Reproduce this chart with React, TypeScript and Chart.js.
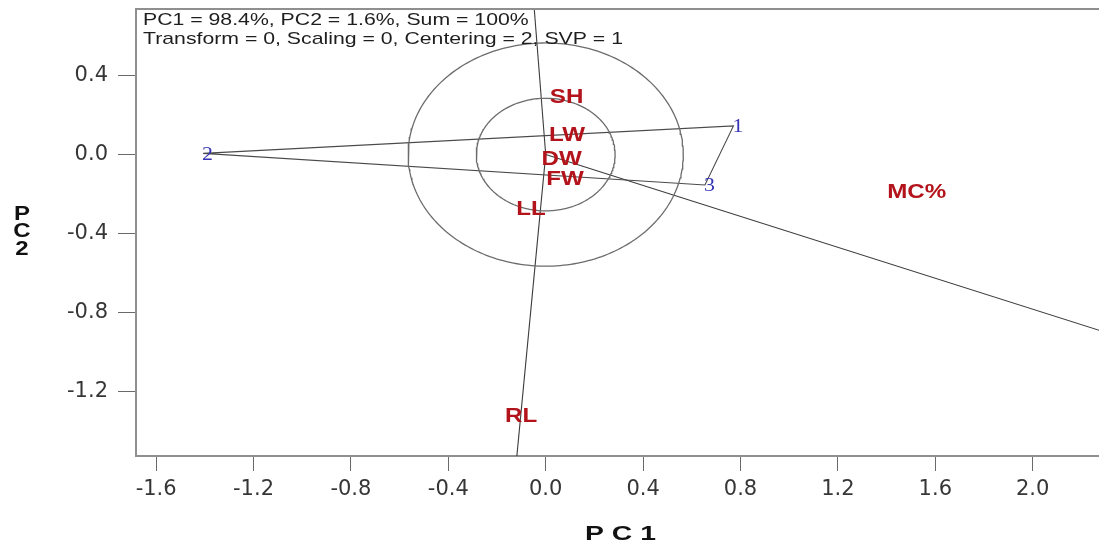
import React, { useEffect, useRef } from "react";
import { Chart, registerables } from "chart.js";

Chart.register(...registerables);

// ---------- data ----------
const HEADER_LINES = [
  "PC1 = 98.4%, PC2 = 1.6%, Sum = 100%",
  "Transform = 0, Scaling = 0, Centering = 2, SVP = 1",
];

const GENOTYPES = ["1", "2", "3"];
const GENO_PC1 = [0.771, -1.407, 0.654];
const GENO_PC2 = [0.145, 0.006, -0.154];
const HULL_ORDER = [1, 0, 2]; // polygon: 2 -> 1 -> 3 -> back to 2

const TRAITS = ["SH", "LW", "DW", "FW", "LL", "RL", "MC%"];
const TRAIT_PC1 = [0.086, 0.0875, 0.0657, 0.0793, -0.0604, -0.101, 1.5236];
const TRAIT_PC2 = [0.289, 0.099, -0.022, -0.124, -0.275, -1.327, -0.188];

const CIRCLE_RADII = [0.285, 0.565];

const X_TICKS = [-1.6, -1.2, -0.8, -0.4, 0.0, 0.4, 0.8, 1.2, 1.6, 2.0];
const Y_TICKS = [0.4, 0.0, -0.4, -0.8, -1.2];
const X_RANGE = [-1.6826, 2.2723];
const Y_RANGE = [-1.526, 0.737];

const X_TITLE = "P C 1";
const Y_TITLE = ["P", "C", "2"];

// ---------- helpers ----------
function circlePoints(r: number) {
  const pts: { x: number; y: number }[] = [];
  const n = 240;
  for (let i = 0; i <= n; i++) {
    const t = (i / n) * Math.PI * 2;
    pts.push({ x: r * Math.cos(t), y: r * Math.sin(t) });
  }
  return pts;
}

function hullPoints() {
  const pts = HULL_ORDER.map((i) => ({ x: GENO_PC1[i], y: GENO_PC2[i] }));
  pts.push({ ...pts[0] });
  return pts;
}

// rays from origin perpendicular to each polygon side, extended (clipped by chart area)
function rayDatasets() {
  const pts = HULL_ORDER.map((i) => ({ x: GENO_PC1[i], y: GENO_PC2[i] }));
  const out: { x: number; y: number }[][] = [];
  for (let k = 0; k < pts.length; k++) {
    const a = pts[k];
    const b = pts[(k + 1) % pts.length];
    let nx = -(b.y - a.y);
    let ny = b.x - a.x;
    const len = Math.hypot(nx, ny);
    nx /= len;
    ny /= len;
    if (nx * a.x + ny * a.y < 0) {
      nx = -nx;
      ny = -ny;
    }
    out.push([
      { x: 0, y: 0 },
      { x: nx * 10, y: ny * 10 },
    ]);
  }
  return out;
}

function drawStretched(
  ctx: CanvasRenderingContext2D,
  text: string,
  x: number,
  y: number,
  k: number,
  align: CanvasTextAlign
) {
  ctx.save();
  ctx.translate(x, y);
  ctx.scale(k, 1);
  ctx.textAlign = align;
  ctx.textBaseline = "middle";
  ctx.fillText(text, 0, 0);
  ctx.restore();
}

const labelPlugin = {
  id: "biplotLabels",
  afterDatasetsDraw(chart: any) {
    const ctx: CanvasRenderingContext2D = chart.ctx;
    const xs = chart.scales.x;
    const ys = chart.scales.y;
    const area = chart.chartArea;

    ctx.save();
    ctx.beginPath();
    ctx.rect(area.left, area.top, area.right - area.left, area.bottom - area.top);
    ctx.clip();

    // trait labels
    ctx.fillStyle = "#b3141c";
    ctx.font = 'bold 21px "Liberation Sans", Arial, sans-serif';
    TRAITS.forEach((t, i) => {
      drawStretched(ctx, t, xs.getPixelForValue(TRAIT_PC1[i]), ys.getPixelForValue(TRAIT_PC2[i]), 1.15, "center");
    });

    // genotype labels
    ctx.fillStyle = "#3535b5";
    ctx.font = '19px "Liberation Serif", "Times New Roman", serif';
    GENOTYPES.forEach((g, i) => {
      drawStretched(ctx, g, xs.getPixelForValue(GENO_PC1[i]) - 1, ys.getPixelForValue(GENO_PC2[i]) + 1.5, 1.15, "left");
    });
    ctx.restore();
  },
  afterDraw(chart: any) {
    const ctx: CanvasRenderingContext2D = chart.ctx;
    const area = chart.chartArea;
    ctx.save();
    // top frame line
    ctx.strokeStyle = "#8f8f8f";
    ctx.lineWidth = 2;
    ctx.beginPath();
    ctx.moveTo(area.left, area.top);
    ctx.lineTo(area.right, area.top);
    ctx.stroke();

    // header
    ctx.fillStyle = "#1e1e1e";
    ctx.font = '17px "Liberation Sans", Arial, sans-serif';
    HEADER_LINES.forEach((line, i) => {
      drawStretched(ctx, line, area.left + 7, area.top + 11 + i * 19, 1.25, "left");
    });

    // axis titles
    ctx.fillStyle = "#111";
    ctx.font = 'bold 21px "Liberation Sans", Arial, sans-serif';
    drawStretched(ctx, X_TITLE, (area.left + area.right) / 2 + 3, 534, 1.35, "center");
    ctx.font = 'bold 20px "Liberation Sans", Arial, sans-serif';
    Y_TITLE.forEach((ch, i) => {
      drawStretched(ctx, ch, 22, 214 + i * 17.5, 1.2, "center");
    });
    ctx.restore();
  },
};

export default function App() {
  const canvasRef = useRef<HTMLCanvasElement | null>(null);

  useEffect(() => {
    if (!canvasRef.current) return;

    const lineDs = (data: any[], color: string, width: number) => ({
      data,
      showLine: true,
      borderColor: color,
      borderWidth: width,
      pointRadius: 0,
      pointHoverRadius: 0,
      tension: 0,
      fill: false,
    });

    const datasets: any[] = [
      ...CIRCLE_RADII.map((r) => lineDs(circlePoints(r), "#6c6c6c", 1.3)),
      lineDs(hullPoints(), "#4a4a4a", 1.1),
      ...rayDatasets().map((d) => lineDs(d, "#3c3c3c", 1.1)),
    ];

    const tickFont = { family: '"DejaVu Sans", sans-serif', size: 21 };

    const chart = new Chart(canvasRef.current, {
      type: "scatter",
      data: { datasets },
      plugins: [labelPlugin],
      options: {
        animation: false,
        responsive: true,
        maintainAspectRatio: false,
        events: [],
        layout: { padding: { top: 9, left: 0, right: 0, bottom: 0 } },
        plugins: {
          legend: { display: false },
          tooltip: { enabled: false },
        },
        scales: {
          x: {
            type: "linear",
            position: "bottom",
            min: X_RANGE[0],
            max: X_RANGE[1],
            afterBuildTicks: (s: any) => {
              s.ticks = X_TICKS.map((v) => ({ value: v }));
            },
            afterFit: (s: any) => {
              s.height = 91;
              s.paddingLeft = 0;
              s.paddingRight = 0;
              s.paddingTop = 0;
              s.paddingBottom = 0;
            },
            grid: {
              display: true,
              drawOnChartArea: false,
              drawTicks: true,
              tickLength: 15,
              tickColor: "#6a6a6a",
              tickWidth: 1,
            },
            border: { display: true, color: "#8f8f8f", width: 2 },
            ticks: {
              font: tickFont,
              color: "#363636",
              padding: 6,
              maxRotation: 0,
              autoSkip: false,
              callback: (v: any) => Number(v).toFixed(1),
            },
          },
          y: {
            type: "linear",
            position: "left",
            min: Y_RANGE[0],
            max: Y_RANGE[1],
            afterBuildTicks: (s: any) => {
              s.ticks = Y_TICKS.map((v) => ({ value: v }));
            },
            afterFit: (s: any) => {
              s.width = 136;
              s.paddingLeft = 0;
              s.paddingRight = 0;
              s.paddingTop = 0;
              s.paddingBottom = 0;
            },
            grid: {
              display: true,
              drawOnChartArea: false,
              drawTicks: true,
              tickLength: 18,
              tickColor: "#6a6a6a",
              tickWidth: 1,
            },
            border: { display: true, color: "#8f8f8f", width: 2 },
            ticks: {
              font: tickFont,
              color: "#363636",
              padding: 10,
              autoSkip: false,
              callback: (v: any) => Number(v).toFixed(1),
            },
          },
        },
      } as any,
    });

    return () => chart.destroy();
  }, []);

  return (
    <div
      style={{
        position: "fixed",
        left: 0,
        top: 0,
        width: 1099,
        height: 547,
        background: "#ffffff",
      }}
    >
      <canvas ref={canvasRef} />
    </div>
  );
}
